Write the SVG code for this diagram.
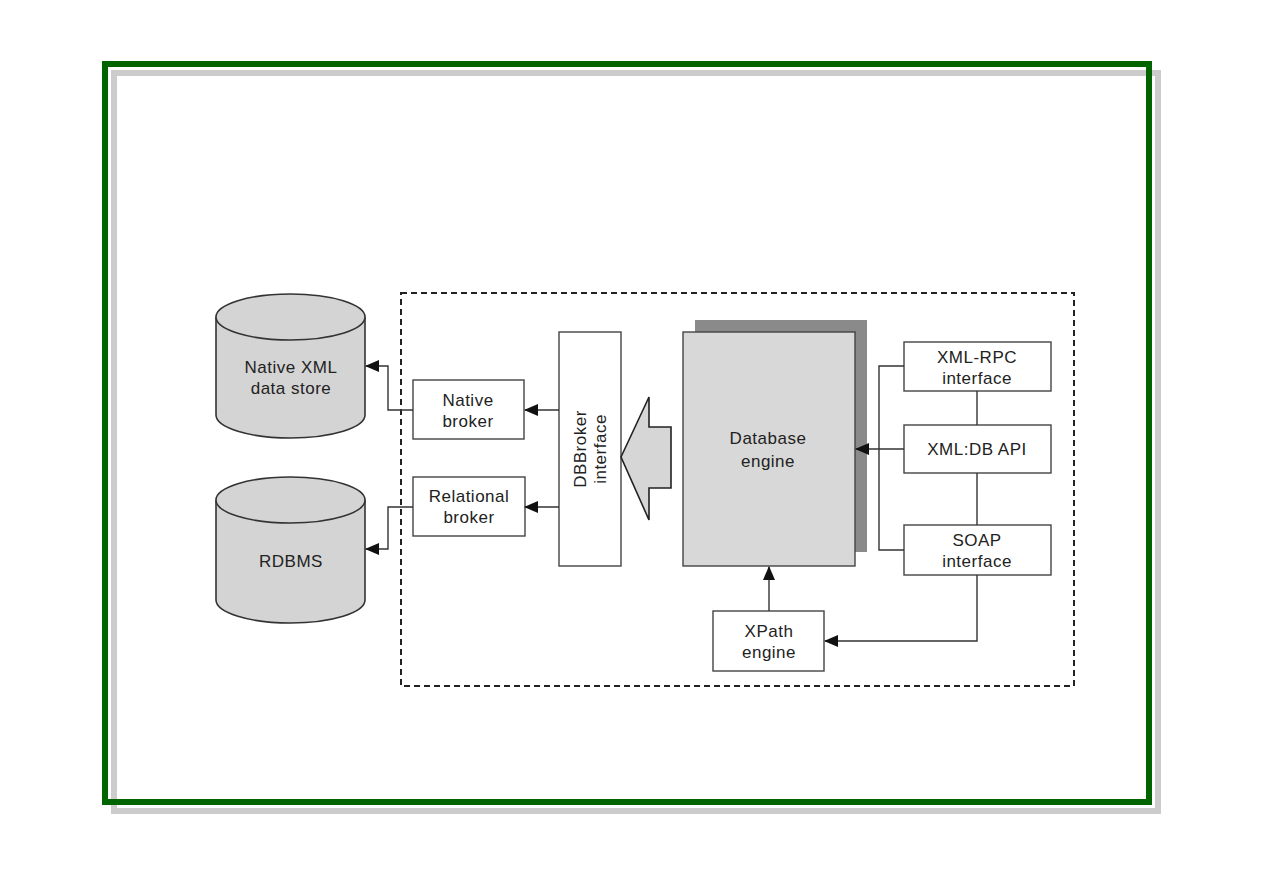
<svg xmlns="http://www.w3.org/2000/svg" width="1263" height="893" viewBox="0 0 1263 893">
<defs>
<style>
.t{font-family:"Liberation Sans",Arial,sans-serif;font-size:17px;fill:#222;text-anchor:middle;letter-spacing:0.5px}
.box{fill:#fff;stroke:#444;stroke-width:1.4}
.ln{fill:none;stroke:#333;stroke-width:1.4}
.cyl{fill:#d4d4d4;stroke:#333;stroke-width:1.6}
</style>
<marker id="ah" markerWidth="14" markerHeight="12" refX="13" refY="6" orient="auto" markerUnits="userSpaceOnUse">
<path d="M0,0 L14,6 L0,12 z" fill="#111"/>
</marker>
</defs>
<rect x="0" y="0" width="1263" height="893" fill="#fff"/>
<g id="frame">
<rect x="114" y="73" width="1044" height="738" fill="none" stroke="#cccccc" stroke-width="6"/>
<rect x="105" y="64" width="1044" height="738" fill="none" stroke="#006400" stroke-width="6"/>
</g>
<g id="boundary">
<rect x="401" y="293" width="673" height="393" fill="none" stroke="#222" stroke-width="2" stroke-dasharray="6,4"/>
</g>
<g id="native-xml-store">
<path class="cyl" d="M216,317 L216,415 A74.5,23 0 0 0 365,415 L365,317"/>
<ellipse class="cyl" cx="290.5" cy="317" rx="74.5" ry="23"/>
<text class="t" x="291" y="373">Native XML</text>
<text class="t" x="291" y="394">data store</text>
</g>
<g id="rdbms">
<path class="cyl" d="M216,500 L216,600 A74.5,23 0 0 0 365,600 L365,500"/>
<ellipse class="cyl" cx="290.5" cy="500" rx="74.5" ry="23"/>
<text class="t" x="291" y="567">RDBMS</text>
</g>
<g id="native-broker">
<rect class="box" x="413" y="380" width="111" height="59"/>
<text class="t" x="468" y="406">Native</text>
<text class="t" x="468" y="427">broker</text>
</g>
<g id="relational-broker">
<rect class="box" x="413" y="477" width="112" height="59"/>
<text class="t" x="469" y="502">Relational</text>
<text class="t" x="469" y="523">broker</text>
</g>
<g id="dbbroker-interface">
<rect class="box" x="559" y="332" width="62" height="234"/>
<text class="t" transform="translate(590,449) rotate(-90)" x="0" y="-4">DBBroker</text>
<text class="t" transform="translate(590,449) rotate(-90)" x="0" y="16">interface</text>
</g>
<g id="database-engine">
<rect x="695" y="320" width="172" height="232" fill="#8a8a8a"/>
<rect x="683" y="332" width="172" height="234" fill="#d8d8d8" stroke="#444" stroke-width="1.4"/>
<text class="t" x="768" y="444">Database</text>
<text class="t" x="768" y="467">engine</text>
</g>
<g id="xml-rpc">
<rect class="box" x="904" y="342" width="147" height="49"/>
<text class="t" x="977" y="363">XML-RPC</text>
<text class="t" x="977" y="384">interface</text>
</g>
<g id="xmldb-api">
<rect class="box" x="904" y="425" width="147" height="48"/>
<text class="t" x="977" y="455">XML:DB API</text>
</g>
<g id="soap">
<rect class="box" x="904" y="525" width="147" height="50"/>
<text class="t" x="977" y="546">SOAP</text>
<text class="t" x="977" y="567">interface</text>
</g>
<g id="xpath">
<rect class="box" x="713" y="611" width="111" height="60"/>
<text class="t" x="769" y="637">XPath</text>
<text class="t" x="769" y="658">engine</text>
</g>
<g id="connectors">
<polyline class="ln" points="413,410 388,410 388,366 366,366" marker-end="url(#ah)"/>
<polyline class="ln" points="413,507 388,507 388,549 366,549" marker-end="url(#ah)"/>
<line class="ln" x1="559" y1="410" x2="525" y2="410" marker-end="url(#ah)"/>
<line class="ln" x1="559" y1="507" x2="525" y2="507" marker-end="url(#ah)"/>
<line class="ln" x1="904" y1="449" x2="856" y2="449" marker-end="url(#ah)"/>
<polyline class="ln" points="904,366 879,366 879,550 904,550"/>
<line class="ln" x1="977" y1="391" x2="977" y2="425"/>
<line class="ln" x1="977" y1="473" x2="977" y2="525"/>
<polyline class="ln" points="977,575 977,641 825,641" marker-end="url(#ah)"/>
<line class="ln" x1="769" y1="611" x2="769" y2="567" marker-end="url(#ah)"/>
<path d="M621,457 L649,397 L649,427 L671,427 L671,488 L649,488 L649,520 Z" fill="#d6d6d6" stroke="#222" stroke-width="1.6"/>
</g>
</svg>
